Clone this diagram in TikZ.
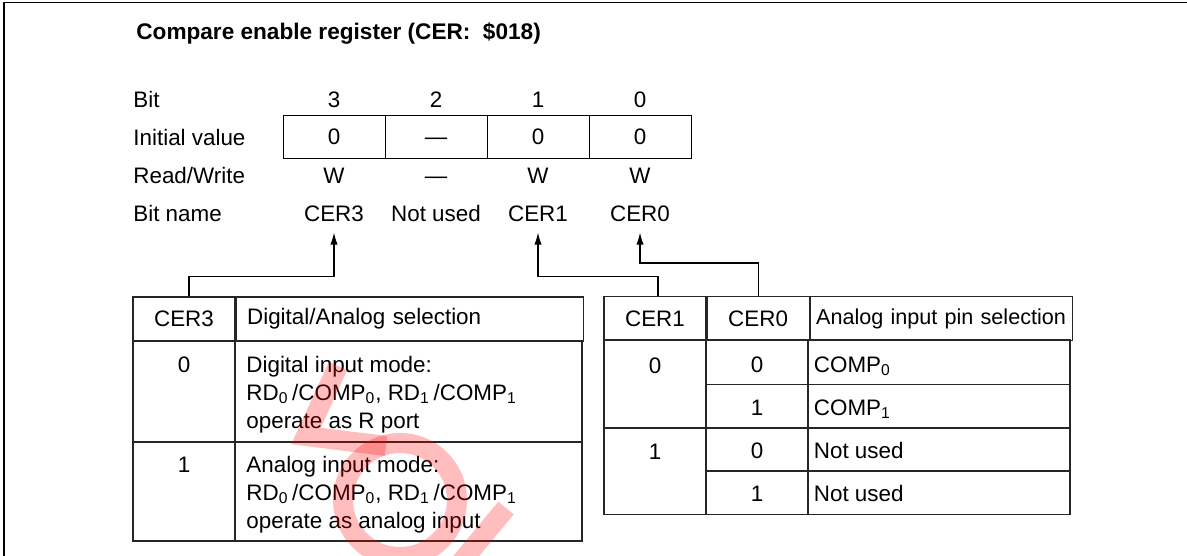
\documentclass[tikz,border=0pt]{standalone}
\usepackage{fontspec}
\setmainfont{Liberation Sans}
\usetikzlibrary{arrows.meta, positioning}

\begin{document}
\begin{tikzpicture}[x=0.5pt, y=-0.5pt,
    font=\fontsize{11.2}{14}\selectfont,
    lbl/.style={anchor=base west, inner sep=0},
    val/.style={anchor=base, inner sep=0},
    regcell/.style={draw, minimum width=51pt, minimum height=21.5pt, inner sep=0,
                    text height=8.2pt, text depth=0pt},
    cell/.style={draw, black!85, text=black, line width=0.55pt, minimum height=22pt, inner sep=0},
    grid/.style={line width=0.55pt, black!85},
    arr/.style={-{Latex[length=6pt, width=3.6pt]}, line width=0.55pt}
  ]
  \useasboundingbox (0,0) rectangle (1187,556);
  % frame
  \draw[line width=0.75pt] (4,556) |- (1187,2.5);

  \node[lbl, font=\bfseries\fontsize{11.3}{14}\selectfont] (title) at (136,40)
    {Compare enable register (CER:\ \ \$018)};

  % register layout
  \node[lbl] (bitlbl) at (133,107) {Bit};
  \node[lbl] (initlbl) at (133,145) {Initial value};
  \node[lbl] (rwlbl) at (133,183.5) {Read/Write};
  \node[lbl] (namelbl) at (133,221.5) {Bit name};

  \foreach \b/\x/\iv/\rw/\nm in {3/334/0/W/CER3, 2/436/\textemdash/\textemdash/Not used,
                                  1/538/0/W/CER1, 0/640/0/W/CER0} {
    \node[val] (bit\b) at (\x,107) {\b};
    \node[regcell] (iv\b) at (\x,136.5) {\iv};
    \node[val] (rw\b) at (\x,183.5) {\rw};
    \node[val] (bn\b) at (\x,221.5) {\nm};
  }

  % CER3 table
  \node[cell, minimum width=51pt] (h3) at (184,319) {CER3};
  \node[cell, right=0pt of h3, text width=162.5pt, inner xsep=5.5pt, align=left] (h3d)
    {Digital/Analog selection};
  \draw[grid] (133,341) rectangle (582,541);
  \draw[grid] (235,341) -- (235,541);
  \draw[grid] (133,442) -- (582,442);
  \node[val] (v30) at (184,372) {0};
  \node[lbl, align=left] (d30) at (246,428)
    {Digital input mode:\\RD\textsubscript{0}\,/COMP\textsubscript{0}, RD\textsubscript{1}\,/COMP\textsubscript{1}\\operate as R port};
  \node[val] (v31) at (184,472) {1};
  \node[lbl, align=left] (d31) at (246,528)
    {Analog input mode:\\RD\textsubscript{0}\,/COMP\textsubscript{0}, RD\textsubscript{1}\,/COMP\textsubscript{1}\\operate as analog input};

  % CER1/CER0 table
  \node[cell, minimum width=51pt] (r1) at (655,318.5) {CER1};
  \node[cell, minimum width=51pt, right=0pt of r1] (r0) {CER0};
  \node[cell, right=0pt of r0, text width=125pt, inner xsep=3pt, align=left,
        font=\fontsize{10.8}{13}\selectfont] (rh)
    {Analog input pin selection};
  \draw[grid] (604,340) rectangle (1070,514.5);
  \draw[grid] (706,340) -- (706,514.5);
  \draw[grid] (808,340) -- (808,514.5);
  \draw[grid] (604,428) -- (1070,428);
  \draw[grid] (706,384.5) -- (1070,384.5);
  \draw[grid] (706,471) -- (1070,471);
  \node[val] (c1a) at (655,373) {0};
  \node[val] (c1b) at (655,459) {1};
  \foreach \v/\y/\txt in {0/372/COMP\textsubscript{0}, 1/415/COMP\textsubscript{1},
                          0/458/Not used, 1/501.5/Not used} {
    \node[val] (c0\y) at (757,\y) {\v};
    \node[lbl] (sel\y) at (813.5,\y) {\txt};
  }

  % connectors
  \draw[arr] ([xshift=2.5pt]h3.north) |- ([yshift=-27.5pt]bn3.base) -- ([yshift=-5.5pt]bn3.base);
  \draw[arr] ([xshift=1.5pt]r1.north) |- ([yshift=-27.5pt]bn1.base) -- ([yshift=-5.5pt]bn1.base);
  \draw[arr] (r0.north) |- ([yshift=-20.75pt]bn0.base) -- ([yshift=-5.5pt]bn0.base);

  % watermark
  \begin{scope}[red, opacity=0.26, line width=10pt]
    \draw[line join=miter] (338,366) -- (306,436) -- (386,446);
    \draw (400,500) circle (57);
    \draw (506,508) -- (458,566);
  \end{scope}
\end{tikzpicture}
\end{document}
